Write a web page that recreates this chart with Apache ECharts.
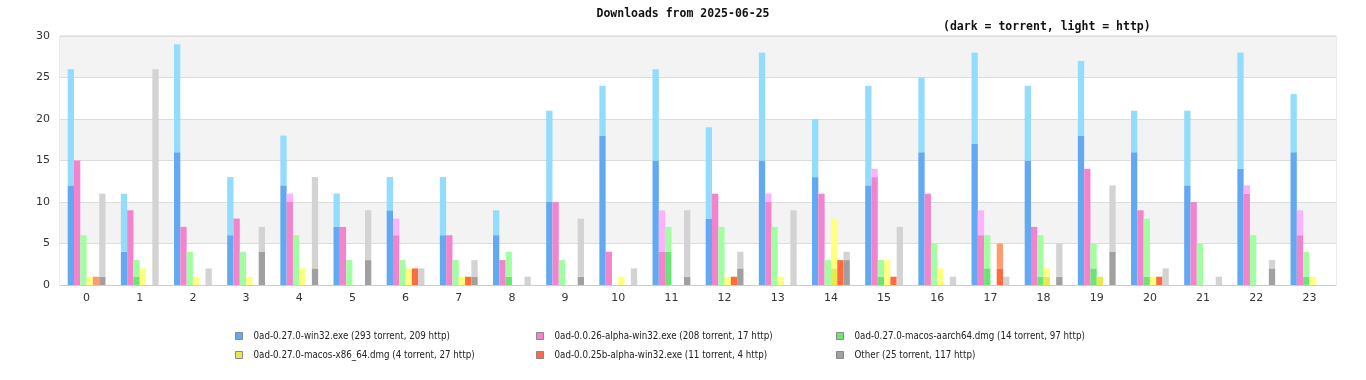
<!DOCTYPE html>
<html>
<head>
<meta charset="utf-8">
<script src="https://cdn.jsdelivr.net/npm/echarts@6/dist/echarts.min.js"></script>
<style>html,body{margin:0;padding:0;background:#fff}#c{width:1366px;height:380px}</style>
</head>
<body>
<div id="c"></div>
<script>
const hours = ['0','1','2','3','4','5','6','7','8','9','10','11','12','13','14','15','16','17','18','19','20','21','22','23'];
const fileNames = [
  '0ad-0.27.0-win32.exe (293 torrent, 209 http)',
  '0ad-0.0.26-alpha-win32.exe (208 torrent, 17 http)',
  '0ad-0.27.0-macos-aarch64.dmg (14 torrent, 97 http)',
  '0ad-0.27.0-macos-x86_64.dmg (4 torrent, 27 http)',
  '0ad-0.0.25b-alpha-win32.exe (11 torrent, 4 http)',
  'Other (25 torrent, 117 http)'
];
const win32Torrent   = [12,4,16,6,12,7,9,6,6,10,18,15,8,15,13,12,16,17,15,18,16,12,14,16];
const win32Http      = [14,7,13,7,6,4,4,7,3,11,6,11,11,13,7,12,9,11,9,9,5,9,14,7];
const a26Torrent     = [15,9,7,8,10,7,6,6,3,10,4,4,11,10,11,13,11,6,7,14,9,10,11,6];
const a26Http        = [0,0,0,0,1,0,2,0,0,0,0,5,0,1,0,1,0,3,0,0,0,0,1,3];
const aarch64Torrent = [0,1,0,0,0,0,0,0,1,0,0,4,0,0,0,1,0,2,1,2,1,0,0,1];
const aarch64Http    = [6,2,4,4,6,3,3,3,3,3,0,3,7,7,3,2,5,4,5,3,7,5,6,3];
const x86Torrent     = [0,0,0,0,0,0,0,0,0,0,0,0,0,0,2,0,0,0,1,1,0,0,0,0];
const x86Http        = [1,2,1,1,2,0,2,1,0,0,1,0,1,1,6,3,2,0,1,0,1,0,0,1];
const a25bTorrent    = [0,0,0,0,0,0,2,1,0,0,0,0,1,0,3,1,0,2,0,0,1,0,0,0];
const a25bHttp       = [1,0,0,0,0,0,0,0,0,0,0,0,0,0,0,0,0,3,0,0,0,0,0,0];
const otherTorrent   = [1,0,0,4,2,3,0,1,0,1,0,1,2,0,3,0,0,0,1,4,0,0,2,0];
const otherHttp      = [10,26,2,3,11,6,2,2,1,7,2,8,2,9,1,7,1,1,4,8,2,1,1,0];
const yTicks = [0,5,10,15,20,25,30];

const torrentData = [win32Torrent,a26Torrent,aarch64Torrent,x86Torrent,a25bTorrent,otherTorrent];
const httpData = [win32Http,a26Http,aarch64Http,x86Http,a25bHttp,otherHttp];
const darkColors = ['#63a9f2','#f383cd','#6ae472','#e8e851','#ff6b40','#a0a0a0'];
const lightColors = ['#94dcfd','#fdb2fb','#a1fea1','#ffff80','#ff9b70','#d3d3d3'];

const series = [];
for (let i = 0; i < 6; i++) {
  series.push({type:'bar', name:fileNames[i], stack:'s'+i, data:torrentData[i], barWidth:6.3, barGap:'0%',
    itemStyle:{color:darkColors[i]}, emphasis:{disabled:true}});
  series.push({type:'bar', name:fileNames[i], stack:'s'+i, data:httpData[i], barWidth:6.3, barGap:'0%',
    itemStyle:{color:lightColors[i]}, emphasis:{disabled:true}});
}
const legendPos = [[235,331],[536,331],[836,331],[235,350],[536,350],[836,350]];
const legends = fileNames.map((n,i)=>({
  data:[{name:n, itemStyle:{color:darkColors[i]}}], left:legendPos[i][0], top:legendPos[i][1], padding:0,
  itemWidth:7, itemHeight:7, icon:'rect', selectedMode:false,
  itemStyle:{borderColor:'#888', borderWidth:1},
  textStyle:{fontFamily:'DejaVu Sans Condensed', fontSize:9.7, color:'#222', padding:[0,0,0,6]}
}));

const chart = echarts.init(document.getElementById('c'), null, {renderer:'canvas'});
chart.setOption({
  animation:false,
  title:[
    {text:'Downloads from 2025-06-25', left:'center', top:8, padding:0,
     textStyle:{fontFamily:'DejaVu Sans Mono', fontWeight:'bold', fontSize:11.5, color:'#111'}},
    {text:'(dark = torrent, light = http)', left:943, top:21, padding:0,
     textStyle:{fontFamily:'DejaVu Sans Mono', fontWeight:'bold', fontSize:11.5, color:'#111'}}
  ],
  legend:legends,
  grid:{left:60, right:30, top:36, bottom:95, show:true, borderColor:'#d8d8d8', borderWidth:1, backgroundColor:'transparent'},
  xAxis:{type:'category', data:hours,
    axisLine:{lineStyle:{color:'#ccc'}}, axisTick:{show:false},
    axisLabel:{fontFamily:'DejaVu Sans', fontSize:11, color:'#333', margin:8}},
  yAxis:{type:'value', min:yTicks[0], max:yTicks[yTicks.length-1], interval:5,
    axisLine:{show:false}, axisTick:{show:false},
    axisLabel:{fontFamily:'DejaVu Sans', fontSize:11, color:'#333', margin:10},
    splitLine:{lineStyle:{color:'#dddddd'}},
    splitArea:{show:true, areaStyle:{color:['#ffffff','#f3f3f3']}}},
  series:series
});
</script>
</body>
</html>
